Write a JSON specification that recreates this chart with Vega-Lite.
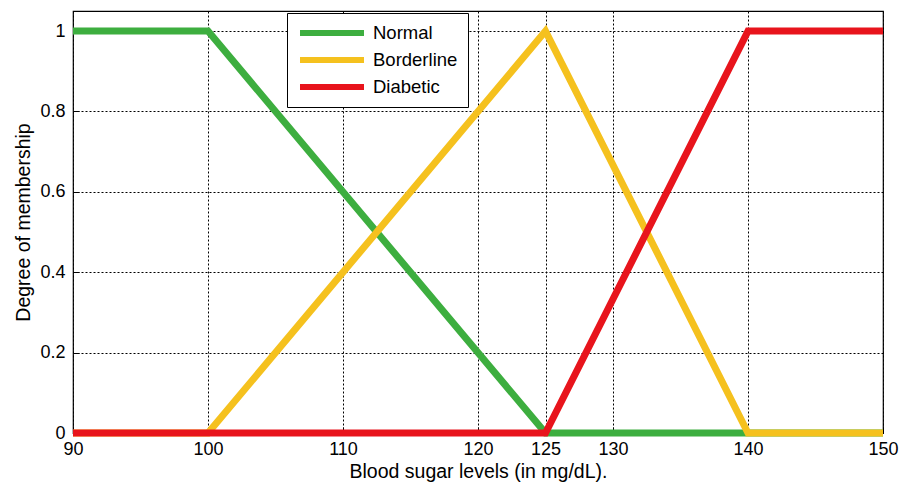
{
  "$schema": "https://vega.github.io/schema/vega-lite/v6.json",
  "width": 810,
  "height": 422,
  "autosize": "none",
  "padding": {"left": 73, "top": 11, "right": 29, "bottom": 56},
  "config": {
    "font": "Liberation Sans",
    "view": {"stroke": "black", "strokeWidth": 1.2},
    "axis": {
      "labelFont": "Liberation Sans",
      "titleFont": "Liberation Sans",
      "labelFontSize": 18,
      "titleFontSize": 19.5,
      "labelColor": "black",
      "titleColor": "black",
      "titleFontWeight": "normal",
      "domain": false,
      "tickColor": "black",
      "tickSize": -6,
      "gridColor": "black",
      "gridDash": [2, 2],
      "gridWidth": 1,
      "gridOpacity": 1
    }
  },
  "data": {
    "values": [
      {"x": 90, "y": 1, "s": "Normal"},
      {"x": 100, "y": 1, "s": "Normal"},
      {"x": 125, "y": 0, "s": "Normal"},
      {"x": 150, "y": 0, "s": "Normal"},
      {"x": 90, "y": 0, "s": "Borderline"},
      {"x": 100, "y": 0, "s": "Borderline"},
      {"x": 125, "y": 1, "s": "Borderline"},
      {"x": 140, "y": 0, "s": "Borderline"},
      {"x": 150, "y": 0, "s": "Borderline"},
      {"x": 90, "y": 0, "s": "Diabetic"},
      {"x": 125, "y": 0, "s": "Diabetic"},
      {"x": 140, "y": 1, "s": "Diabetic"},
      {"x": 150, "y": 1, "s": "Diabetic"}
    ]
  },
  "mark": {"type": "line", "strokeWidth": 7, "clip": false},
  "encoding": {
    "x": {
      "field": "x",
      "type": "quantitative",
      "scale": {"domain": [90, 150], "nice": false, "zero": false},
      "axis": {
        "values": [90, 100, 110, 120, 125, 130, 140, 150],
        "title": "Blood sugar levels (in mg/dL).",
        "labelPadding": 13,
        "titlePadding": 4,
        "labelFlush": false
      }
    },
    "y": {
      "field": "y",
      "type": "quantitative",
      "scale": {"domain": [0, 1.05], "nice": false},
      "axis": {
        "values": [0, 0.2, 0.4, 0.6, 0.8, 1],
        "format": "~g",
        "title": "Degree of membership",
        "labelPadding": 14,
        "titlePadding": 6
      }
    },
    "color": {
      "field": "s",
      "type": "nominal",
      "sort": ["Normal", "Borderline", "Diabetic"],
      "scale": {"domain": ["Normal", "Borderline", "Diabetic"], "range": ["#3DAE3F", "#F5C11E", "#E8141C"]},
      "legend": {
        "title": null,
        "orient": "none",
        "legendX": 214,
        "legendY": 2,
        "symbolType": "stroke",
        "symbolStrokeWidth": 6,
        "symbolSize": 4096,
        "clipHeight": 20,
        "labelFontSize": 18.5,
        "labelFont": "Liberation Sans",
        "labelColor": "black",
        "labelOffset": 6,
        "strokeColor": "black",
        "fillColor": "white",
        "padding": 10,
        "rowPadding": 7
      }
    }
  }
}
